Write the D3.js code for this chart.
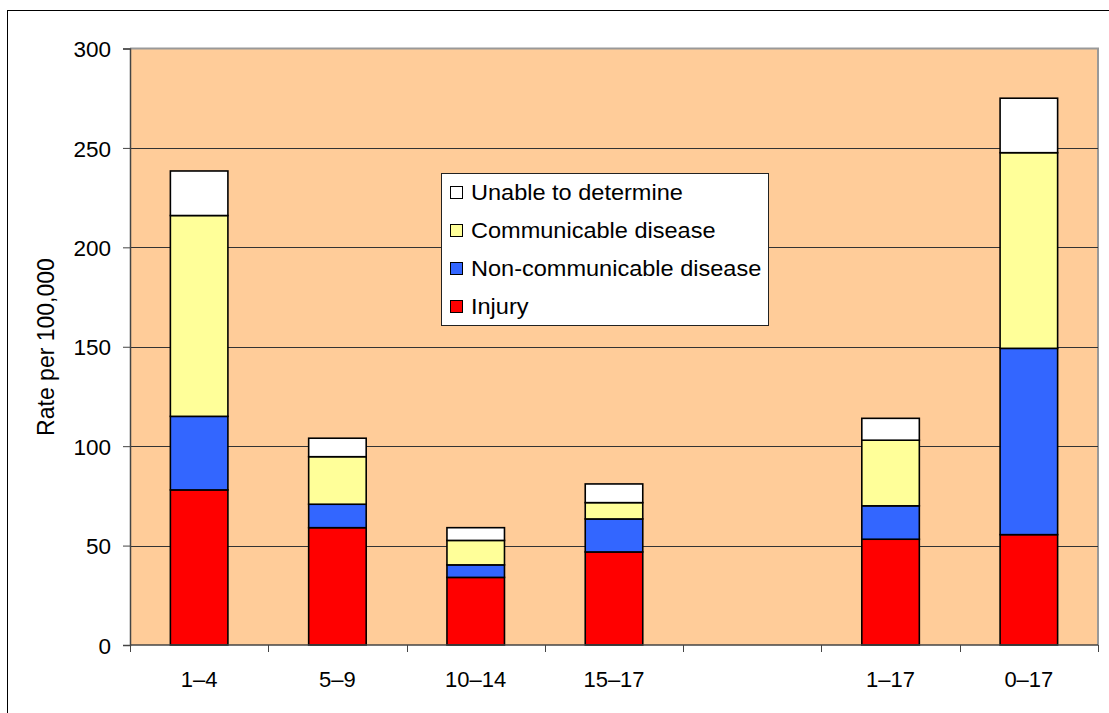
<!DOCTYPE html>
<html><head><meta charset="utf-8">
<script src="https://cdn.jsdelivr.net/npm/d3@7"></script>
<style>body{margin:0;background:#fff;} text{font-family:Arial,"Liberation Sans",sans-serif;fill:#000;}</style>
</head><body>
<svg id="chart" width="1109" height="713"></svg>
<script>
const categories = ["1–4","5–9","10–14","15–17","","1–17","0–17"];
const injury     = [78, 59, 34, 46.8, null, 53.2, 55.5];
const nonComm    = [37, 11.8, 6.3, 16.6, null, 16.8, 93.7];
const comm       = [101, 23.9, 12.3, 8.2, null, 33, 98.4];
const unable     = [22.4, 9.3, 6.4, 9.4, null, 11, 27.4];
const seriesNames = ["Injury","Non-communicable disease","Communicable disease","Unable to determine"];
const seriesColors = ["#FF0000","#3366FF","#FFFF99","#FFFFFF"];
const yTicks = [0,50,100,150,200,250,300];

const svg = d3.select("#chart");
const L=130, R=1098, T=48.5, B=645;

svg.append("rect").attr("x",7.5).attr("y",10.5).attr("width",1130).attr("height",730)
  .attr("fill","#fff").attr("stroke","#000").attr("stroke-width",1);

const x = d3.scaleBand().domain(d3.range(categories.length)).range([L,R]).paddingInner(0.584).paddingOuter(0.292);
const xSlot = d3.scaleBand().domain(d3.range(categories.length)).range([L,R]);
const y = d3.scaleLinear().domain([0,300]).range([B,T]);

svg.append("rect").attr("x",L).attr("y",T).attr("width",R-L).attr("height",B-T).attr("fill","#FFCC99");
svg.append("path").attr("d",`M${L},${T}H${R}V${B}`).attr("fill","none").attr("stroke","#999").attr("stroke-width",2);

svg.append("g").selectAll("line").data(yTicks.filter(d=>d>0 && d<300)).join("line")
  .attr("x1",L).attr("x2",R).attr("y1",d=>Math.round(y(d))+0.5).attr("y2",d=>Math.round(y(d))+0.5)
  .attr("stroke","#333").attr("stroke-width",1);

const rows = categories.map((c,i)=>({i, v:[injury[i],nonComm[i],comm[i],unable[i]]}));
const gBars = svg.append("g");
rows.forEach(r=>{
  if (r.v[0]==null) return;
  let acc=0;
  r.v.forEach((val,k)=>{
    const y0=acc, y1=acc+val; acc=y1;
    gBars.append("rect").attr("x",x(r.i)).attr("width",x.bandwidth())
      .attr("y",y(y1)).attr("height",y(y0)-y(y1))
      .attr("fill",seriesColors[k]).attr("stroke","#000").attr("stroke-width",1.6);
  });
});

const yAxis = svg.append("g").attr("transform",`translate(${L},0)`)
  .call(d3.axisLeft(y).tickValues(yTicks).tickSize(7).tickPadding(12).tickFormat(d3.format("d")));
yAxis.select(".domain").attr("stroke","#444").attr("stroke-width",1.5);
yAxis.selectAll(".tick line").attr("stroke","#444");
yAxis.selectAll("text").attr("font-size",22.5).attr("font-family","Arial, 'Liberation Sans', sans-serif").attr("dy","0.36em");

const xAxisG = svg.append("g").attr("transform",`translate(0,${B})`);
xAxisG.append("line").attr("x1",L).attr("x2",R).attr("y1",0).attr("y2",0).attr("stroke","#444").attr("stroke-width",1.5);
const tickPos = d3.range(categories.length+1).map(i=> i<categories.length ? xSlot(i) : R);
xAxisG.selectAll(".xt").data(tickPos).join("line").attr("class","xt")
  .attr("x1",d=>Math.round(d)+0.5).attr("x2",d=>Math.round(d)+0.5).attr("y1",0).attr("y2",7).attr("stroke","#444");
xAxisG.selectAll(".xl").data(categories).join("text").attr("class","xl")
  .attr("x",(d,i)=>x(i)+x.bandwidth()/2).attr("y",42).attr("text-anchor","middle").attr("font-size",22).text(d=>d);

svg.append("text").attr("transform","translate(54,347) rotate(-90)").attr("text-anchor","middle")
  .attr("font-size",23).text("Rate per 100,000");

const lg = svg.append("g");
lg.append("rect").attr("x",441.5).attr("y",173.5).attr("width",327).attr("height",152).attr("fill","#fff").attr("stroke","#222");
const legendOrder = [3,2,1,0];
legendOrder.forEach((k,j)=>{
  const cy = 192 + j*38;
  lg.append("rect").attr("x",450.5).attr("y",cy-5.5).attr("width",12).attr("height",12)
    .attr("fill",seriesColors[k]).attr("stroke","#000").attr("stroke-width",1);
  lg.append("text").attr("transform",`translate(471,${cy+8}) scale(1.07,1)`).attr("font-size",22).text(seriesNames[k]);
});
</script>
</body></html>
